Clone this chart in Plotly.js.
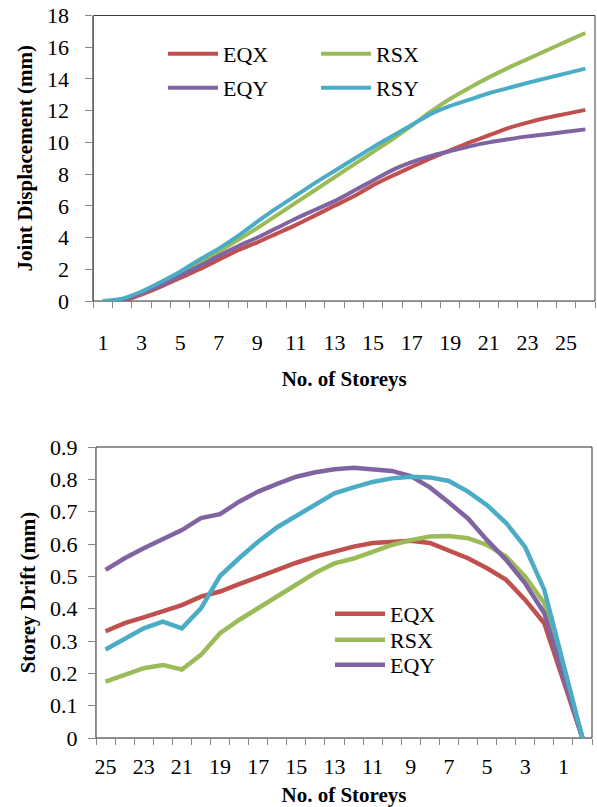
<!DOCTYPE html>
<html><head><meta charset="utf-8">
<script src="https://cdn.plot.ly/plotly-3.0.1.min.js"></script>
<style>html,body{margin:0;padding:0;background:#fff}#chart{width:597px;height:807px}</style>
</head><body><div id="chart"></div>
<script>
// ---------- Top chart: joint displacement ----------
const storeysTop = [1,2,3,4,5,6,7,8,9,10,11,12,13,14,15,16,17,18,19,20,21,22,23,24,25,26];
const topTickVals = [1,3,5,7,9,11,13,15,17,19,21,23,25];
const dispEQX = [0,0,0.4,0.9,1.45,2.0,2.6,3.2,3.7,4.25,4.8,5.4,6.0,6.6,7.3,7.9,8.45,9.0,9.5,10.0,10.45,10.9,11.25,11.55,11.8,12.05];
const dispRSX = [0,0.1,0.5,1.05,1.7,2.4,3.1,3.85,4.6,5.4,6.2,7.0,7.8,8.6,9.4,10.2,11.05,11.95,12.75,13.45,14.1,14.7,15.25,15.8,16.35,16.9];
const dispEQY = [0,0.05,0.5,1.0,1.6,2.2,2.85,3.45,4.0,4.6,5.2,5.75,6.3,6.95,7.6,8.25,8.75,9.15,9.45,9.75,10.0,10.2,10.38,10.52,10.67,10.82];
const dispRSY = [0,0.15,0.6,1.2,1.85,2.6,3.3,4.1,5.0,5.85,6.65,7.45,8.2,8.95,9.7,10.4,11.1,11.8,12.3,12.7,13.1,13.42,13.75,14.05,14.35,14.65];

// ---------- Bottom chart: storey drift ----------
const storeysBottom = [25,24,23,22,21,20,19,18,17,16,15,14,13,12,11,10,9,8,7,6,5,4,3,2,1,0];
const bottomTickVals = [25,23,21,19,17,15,13,11,9,7,5,3,1];
const driftTickVals = [0,0.1,0.2,0.3,0.4,0.5,0.6,0.7,0.8,0.9];
const driftTickText = ['0','0.1','0.2','0.3','0.4','0.5','0.6','0.7','0.8','0.9'];
const driftEQX = [0.33,0.355,0.373,0.391,0.411,0.437,0.453,0.476,0.499,0.522,0.542,0.561,0.576,0.592,0.603,0.608,0.61,0.603,0.581,0.556,0.525,0.489,0.427,0.355,0.178,0];
const driftRSX = [0.174,0.195,0.216,0.226,0.212,0.257,0.324,0.365,0.401,0.439,0.476,0.511,0.54,0.555,0.576,0.597,0.612,0.623,0.625,0.618,0.597,0.561,0.499,0.417,0.21,0];
const driftEQY = [0.52,0.556,0.587,0.615,0.643,0.68,0.692,0.731,0.762,0.786,0.808,0.822,0.831,0.836,0.832,0.826,0.81,0.775,0.728,0.679,0.612,0.551,0.478,0.386,0.19,0];
const driftRSY = [0.274,0.308,0.339,0.36,0.339,0.401,0.501,0.556,0.607,0.652,0.687,0.726,0.757,0.775,0.792,0.803,0.808,0.806,0.795,0.762,0.72,0.665,0.59,0.458,0.23,0];

const colors = {EQX:'#C0504D', RSX:'#9BBB59', EQY:'#8064A2', RSY:'#4BACC6'};
const W = 597, H = 807;
const fx = x => x / W;
const fy = y => 1 - y / H;
const FONT = "'Liberation Serif', 'Times New Roman', serif";

const traces = [
  {y: dispEQX, name:'EQX', legend:'legend',  color: colors.EQX},
  {y: dispRSX, name:'RSX', legend:'legend2', color: colors.RSX},
  {y: dispEQY, name:'EQY', legend:'legend3', color: colors.EQY},
  {y: dispRSY, name:'RSY', legend:'legend4', color: colors.RSY}
].map(t => ({type:'scatter', mode:'lines', x: storeysTop, y:t.y, name:t.name, legend:t.legend,
  xaxis:'x', yaxis:'y', line:{color:t.color, width:4, shape:'spline', smoothing:0.6}}));

[
  {y: driftEQX, name:'EQX', legend:'legend5', color: colors.EQX, show:true},
  {y: driftRSX, name:'RSX', legend:'legend6', color: colors.RSX, show:true},
  {y: driftEQY, name:'EQY', legend:'legend7', color: colors.EQY, show:true},
  {y: driftRSY, name:'RSY', legend:'legend7', color: colors.RSY, show:false}
].forEach(t => traces.push({type:'scatter', mode:'lines', x: storeysBottom, y: t.y, name: t.name,
  legend:t.legend, showlegend:t.show, xaxis:'x2', yaxis:'y2',
  line:{color:t.color, width:4.5}}));

const axisCommon = {
  showgrid:false, zeroline:false, showline:true, linecolor:'#868686', linewidth:1,
  tickfont:{family:FONT, size:22, color:'#000'}, tickcolor:'#868686'
};
const titleFont = {family:FONT, size:21, color:'#000'};

function legendAt(xText, yRow) {
  return {x: fx(xText - 58), y: fy(yRow), xanchor:'left', yanchor:'middle',
    bgcolor:'rgba(0,0,0,0)', font:{family:FONT, size:22, color:'#000'}, itemwidth:50};
}

const layout = {
  width: W, height: H,
  margin:{l:0, r:0, t:0, b:0},
  paper_bgcolor:'#fff', plot_bgcolor:'#fff',
  font:{family:FONT, color:'#000'},
  xaxis: Object.assign({}, axisCommon, {
    domain:[fx(93.3), fx(595)], anchor:'y', range:[0.5, 26.5],
    tickmode:'array', tickvals: topTickVals, ticktext: topTickVals.map(String),
    ticks:'', ticklabelstandoff: 22,
    minor:{ticks:'outside', ticklen:6, tick0:0.5, dtick:1, tickcolor:'#868686', showgrid:false},
    title:{text:'<b>No. of Storeys</b>', font:titleFont, standoff: 16}
  }),
  yaxis: Object.assign({}, axisCommon, {
    domain:[fy(301), fy(15.5)], anchor:'x', range:[0, 18], dtick:2, tick0:0,
    ticks:'outside', ticklen:7, ticklabelstandoff: 12,
    title:{text:'<b>Joint Displacement (mm)</b>', font:titleFont, standoff: 8}
  }),
  xaxis2: Object.assign({}, axisCommon, {
    domain:[fx(96), fx(592)], anchor:'y2', range:[25.5, -0.5],
    tickmode:'array', tickvals: bottomTickVals, ticktext: bottomTickVals.map(String),
    ticks:'', ticklabelstandoff: 9,
    minor:{ticks:'outside', ticklen:6, tick0:0.5, dtick:1, tickcolor:'#868686', showgrid:false},
    title:{text:'<b>No. of Storeys</b>', font:titleFont, standoff: 8}
  }),
  yaxis2: Object.assign({}, axisCommon, {
    domain:[fy(738), fy(447)], anchor:'x2', range:[0, 0.9],
    tickmode:'array', tickvals: driftTickVals, ticktext: driftTickText,
    ticks:'outside', ticklen:7, ticklabelstandoff: 6,
    title:{text:'<b>Storey Drift (mm)</b>', font:titleFont, standoff: 8}
  }),
  shapes:[
    {type:'rect', xref:'x domain', yref:'y domain', x0:0, x1:1, y0:0, y1:1, layer:'below', line:{color:'#3c3c3c', width:1}},
    {type:'rect', xref:'x2 domain', yref:'y2 domain', x0:0, x1:1, y0:0, y1:1, layer:'below', line:{color:'#2a2a2a', width:1}}
  ],
  legend:  legendAt(221, 54),
  legend2: legendAt(374, 54),
  legend3: legendAt(221, 88),
  legend4: legendAt(374, 88),
  legend5: legendAt(388, 614),
  legend6: legendAt(388, 640),
  legend7: legendAt(388, 665),
  showlegend:true
};

Plotly.newPlot('chart', traces, layout, {staticPlot:true, displayModeBar:false});
</script>
</body></html>
